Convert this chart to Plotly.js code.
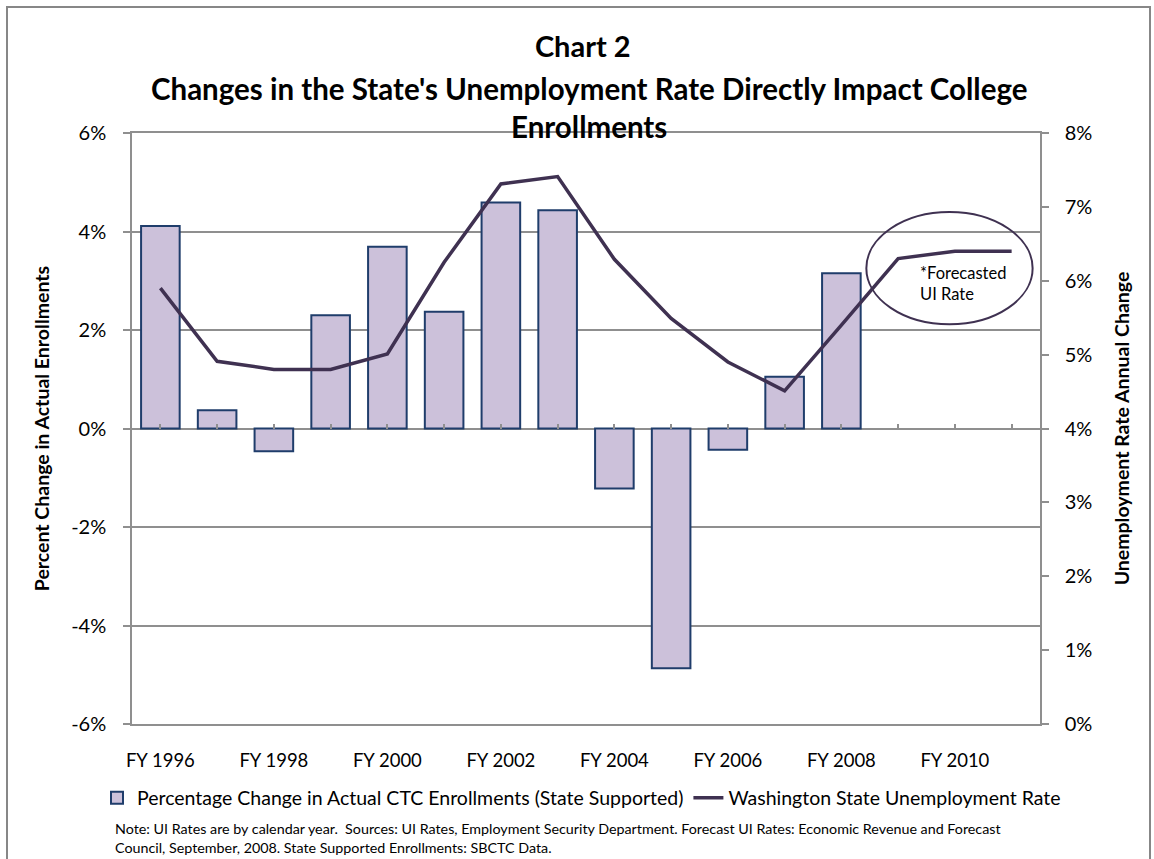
<!DOCTYPE html>
<html>
<head>
<meta charset="utf-8">
<script src="https://cdn.plot.ly/plotly-3.0.1.min.js"></script>
<style>
html,body{margin:0;padding:0;background:#fff;}
#chart{width:1154px;height:859px;}
</style>
</head>
<body>
<div id="chart"></div>
<script>
// ---- data ----
var categories = ["FY 1996","FY 1997","FY 1998","FY 1999","FY 2000","FY 2001","FY 2002","FY 2003",
                  "FY 2004","FY 2005","FY 2006","FY 2007","FY 2008","FY 2009","FY 2010","FY 2011"];
var barCategories = categories.slice(0, 13);
var enrollChange = [4.11, 0.37, -0.46, 2.30, 3.69, 2.37, 4.59, 4.43, -1.22, -4.87, -0.43, 1.05, 3.15];
var uiRate = [5.90, 4.91, 4.80, 4.80, 5.01, 6.25, 7.31, 7.41, 6.29, 5.49, 4.90, 4.51, 5.40, 6.30, 6.40, 6.40];
var leftTickVals = [-6, -4, -2, 0, 2, 4, 6];
var leftTickText = ["-6%", "-4%", "-2%", "0%", "2%", "4%", "6%"];
var barName = "Percentage Change in Actual CTC Enrollments (State Supported)";
var lineName = "Washington State Unemployment Rate";
var titleLines = ["Chart 2", "Changes in the State's Unemployment Rate Directly Impact College", "Enrollments"];
var leftTitle = "Percent Change in Actual Enrollments";
var rightTitle = "Unemployment Rate Annual Change";
var noteText = "Note: UI Rates are by calendar year.  Sources: UI Rates, Employment Security Department. Forecast UI Rates: Economic Revenue and Forecast<br>Council, September, 2008. State Supported Enrollments: SBCTC Data.";
var forecastLabel = "*Forecasted<br>UI Rate";

var FONT = "Lato, 'Open Sans', 'Liberation Sans', sans-serif";
var GRID = "#8f8f8f";

var traces = [
  {
    type: "bar",
    name: barName,
    x: barCategories,
    y: enrollChange,
    marker: {color: "#ccc1da", line: {color: "#1f3d6b", width: 2}},
    hoverinfo: "x+y"
  },
  {
    type: "scatter",
    mode: "lines",
    name: lineName,
    x: categories,
    y: uiRate,
    yaxis: "y2",
    line: {color: "#3f3151", width: 3.5},
    hoverinfo: "x+y"
  },
  {
    type: "scatter",
    mode: "lines",
    x: [-0.5, 15.5],
    y: [null, null],
    xaxis: "x2",
    showlegend: false,
    hoverinfo: "skip"
  }
];

var layout = {
  width: 1154,
  height: 859,
  paper_bgcolor: "#ffffff",
  plot_bgcolor: "#ffffff",
  font: {family: FONT, color: "#000"},
  margin: {l: 132, r: 114, t: 133, b: 135, autoexpand: false},
  title: {
    text: "<b>" + titleLines[0] + "</b>",
    font: {family: FONT, size: 29, color: "#000"},
    x: 0.505, xanchor: "center",
    y: 1 - 47/859, yanchor: "middle", yref: "container"
  },
  bargap: 0.32,
  showlegend: true,
  legend: {
    orientation: "h",
    xref: "paper",
    x: (97 - 132) / 908, xanchor: "left",
    yref: "paper",
    y: (724 - 798) / 591, yanchor: "middle",
    font: {family: FONT, size: 19.5, color: "#000"},
    traceorder: "normal"
  },
  xaxis: {
    type: "category",
    categoryorder: "array",
    categoryarray: categories,
    range: [-0.5, 15.5],
    tickmode: "linear", tick0: 0, dtick: 2,
    ticks: "",
    showgrid: false,
    zeroline: false,
    showline: true, mirror: true, linecolor: GRID, linewidth: 1.5,
    tickfont: {family: FONT, size: 18.5, color: "#000"},
    ticklabelstandoff: 19,
    automargin: false,
    fixedrange: true
  },
  xaxis2: {
    overlaying: "x",
    anchor: "free",
    position: 0.5,
    side: "top",
    range: [-0.5, 15.5],
    tickmode: "linear", tick0: 0, dtick: 1,
    ticks: "outside", ticklen: 5, tickcolor: GRID, tickwidth: 1.5,
    showticklabels: false,
    showgrid: false, zeroline: false, showline: false,
    automargin: false,
    fixedrange: true
  },
  yaxis: {
    range: [-6, 6],
    tickmode: "array", tickvals: leftTickVals, ticktext: leftTickText,
    showgrid: true, gridcolor: GRID, gridwidth: 1.5,
    zeroline: true, zerolinecolor: GRID, zerolinewidth: 1.5,
    showline: true, linecolor: GRID, linewidth: 1.5,
    ticks: "outside", ticklen: 7, tickcolor: GRID, tickwidth: 1.5,
    ticklabelstandoff: 13,
    tickfont: {family: FONT, size: 20, color: "#000"},
    title: {text: "<b>" + leftTitle + "</b>", font: {family: FONT, size: 19.5, color: "#000"}, standoff: 16},
    automargin: false,
    fixedrange: true
  },
  yaxis2: {
    overlaying: "y",
    side: "right",
    range: [0, 8],
    tickmode: "linear", tick0: 0, dtick: 1,
    ticksuffix: "%",
    showgrid: false, zeroline: false,
    showline: true, linecolor: GRID, linewidth: 1.5,
    ticks: "outside", ticklen: 7, tickcolor: GRID, tickwidth: 1.5,
    ticklabelstandoff: 12,
    tickfont: {family: FONT, size: 20, color: "#000"},
    title: {text: "<b>" + rightTitle + "</b>", font: {family: FONT, size: 19.5, color: "#000"}, standoff: 24},
    automargin: false,
    fixedrange: true
  },
  annotations: [
    {
      text: "<b>" + titleLines[1] + "</b>",
      xref: "paper", yref: "paper", x: 0.503, y: (724 - 88) / 591,
      xanchor: "center", yanchor: "middle", showarrow: false,
      font: {family: FONT, size: 29.5, color: "#000"}
    },
    {
      text: "<b>" + titleLines[2] + "</b>",
      xref: "paper", yref: "paper", x: 0.503, y: (724 - 127) / 591,
      xanchor: "center", yanchor: "middle", showarrow: false,
      font: {family: FONT, size: 29.5, color: "#000"}
    },
    {
      text: forecastLabel,
      xref: "paper", yref: "paper", x: (918 - 132) / 908, y: (724 - 283) / 591,
      xanchor: "left", yanchor: "middle", align: "left", showarrow: false,
      font: {family: FONT, size: 16.5, color: "#000"}
    },
    {
      text: noteText,
      xref: "paper", yref: "paper", x: (113 - 132) / 908, y: (724 - 838) / 591,
      xanchor: "left", yanchor: "middle", align: "left", showarrow: false,
      font: {family: FONT, size: 14.3, color: "#000"}
    }
  ],
  shapes: [
    {
      type: "circle", xref: "x2", yref: "y2",
      x0: 12.44, x1: 15.37, y0: 5.41, y1: 6.93,
      line: {color: "#3f3151", width: 2}, fillcolor: "rgba(0,0,0,0)"
    },
    {
      type: "rect", xref: "paper", yref: "paper",
      x0: (7 - 132) / 908, x1: (1150 - 132) / 908,
      y0: (724 - 880) / 591, y1: (724 - 7) / 591,
      line: {color: "#878787", width: 2}, fillcolor: "rgba(0,0,0,0)", layer: "below"
    }
  ]
};

Plotly.newPlot("chart", traces, layout, {displayModeBar: false, responsive: false});
</script>
</body>
</html>
